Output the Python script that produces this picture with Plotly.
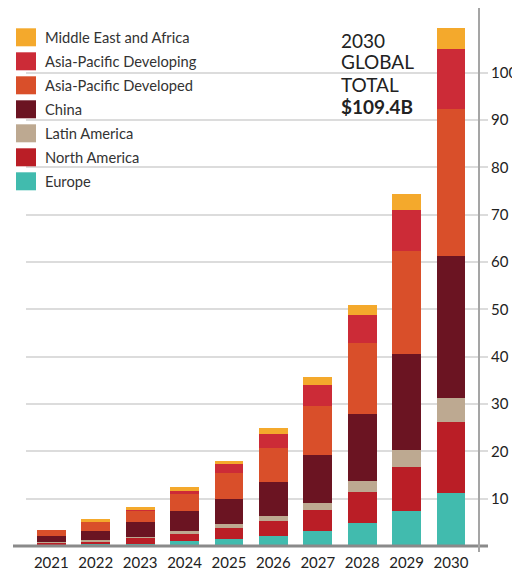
import plotly.graph_objects as go

years = [2021, 2022, 2023, 2024, 2025, 2026, 2027, 2028, 2029, 2030]
series_names = ["Europe", "North America", "Latin America", "China",
                "Asia-Pacific Developed", "Asia-Pacific Developing", "Middle East and Africa"]
europe = [0.1, 0.5, 0.45, 1.05, 1.47, 2.1, 3.15, 4.83, 7.35, 11.3]
north_america = [0.55, 0.4, 1.26, 1.68, 2.31, 3.15, 4.41, 6.5, 9.45, 14.9]
latin_america = [0.2, 0.35, 0.21, 0.42, 0.84, 1.05, 1.47, 2.31, 3.57, 5.05]
china = [1.2, 1.9, 3.15, 4.2, 5.25, 7.21, 10.29, 14.3, 20.2, 30.1]
ap_developed = [1.26, 2.1, 2.52, 3.57, 5.46, 7.28, 10.29, 14.9, 21.8, 31.1]
ap_developing = [0.0, 0.0, 0.05, 0.7, 2.1, 2.94, 4.41, 5.88, 8.6, 12.5]
mea = [0.0, 0.4, 0.63, 0.77, 0.63, 1.26, 1.68, 2.31, 3.36, 4.45]
colors = ["#41BBAE", "#BA1E26", "#BDA991", "#6B1422", "#D94F2A", "#CC2B37", "#F4A92C"]
y_ticks = [10, 20, 30, 40, 50, 60, 70, 80, 90, 100]
note_lines = ["2030", "GLOBAL", "TOTAL", "$109.4B"]

values = [europe, north_america, latin_america, china, ap_developed, ap_developing, mea]

# page body has an 8px margin, so the figure is drawn 8px smaller and
# positions below are given in window pixels and shifted by OFF
OFF = 8
W, H = 520 - OFF, 572 - OFF
PL, PR, PT, PB = 26, 479, 8, 546          # plot area in window pixels
ML, MR, MT, MB = PL - OFF, W - (PR - OFF), PT - OFF, H - (PB - OFF)
PW, PH = W - ML - MR, H - MT - MB

def px(x):
    return (x - PL) / PW

def py(y):
    return (PB - y) / PH

FONT = "Lato"

fig = go.Figure()
for name, vals, col in zip(series_names, values, colors):
    fig.add_trace(go.Bar(x=years, y=vals, name=name, marker_color=col,
                         marker_line_width=0, width=0.65, showlegend=False))

shapes = []
annotations = []
shapes.append(dict(type="rect", xref="paper", yref="paper", layer="between",
                   x0=px(8), x1=px(232), y0=py(197), y1=py(22),
                   fillcolor="white", line_width=0))
for i, (name, col) in enumerate(zip(series_names[::-1], colors[::-1])):
    cy = 37.3 + 24 * i
    shapes.append(dict(type="rect", xref="paper", yref="paper", layer="above",
                       x0=px(16), x1=px(36), y0=py(cy + 9), y1=py(cy - 9),
                       fillcolor=col, line_width=0))
    annotations.append(dict(xref="paper", yref="paper", x=px(43), y=py(cy),
                            text=name, showarrow=False, xanchor="left", yanchor="middle",
                            font=dict(family=FONT, size=14.7, color="#333333")))
shapes.append(dict(type="line", xref="paper", yref="paper", layer="above",
                   x0=px(13), x1=px(488), y0=0, y1=0,
                   line=dict(color="#8a8a8a", width=3)))
shapes.append(dict(type="line", xref="paper", yref="paper", layer="above",
                   x0=1, x1=1, y0=py(552), y1=1,
                   line=dict(color="#a5a5a5", width=2)))

note_y = [40.7, 61.7, 84.0, 106.0]
for i, (line, ny) in enumerate(zip(note_lines, note_y)):
    txt = "<b>" + line + "</b>" if i == 3 else line
    annotations.append(dict(xref="paper", yref="paper", x=px(339), y=py(ny),
                            text=txt, showarrow=False, xanchor="left", yanchor="middle",
                            font=dict(family=FONT, size=19, color="#222222")))

fig.update_layout(
    width=W, height=H, barmode="stack",
    margin=dict(l=ML, r=MR, t=MT, b=MB, autoexpand=False),
    paper_bgcolor="white", plot_bgcolor="white",
    showlegend=False,
    shapes=shapes, annotations=annotations,
    xaxis=dict(range=[2020.43, 2030.63], tickvals=years, ticktext=[str(y) for y in years],
               showgrid=False, showline=False, ticks="", zeroline=False,
               ticklabelstandoff=6,
               tickfont=dict(family=FONT, size=15, color="#222222")),
    yaxis=dict(side="right", range=[0, 113.7], tickvals=y_ticks,
               showgrid=True, gridcolor="#dcdcdc", gridwidth=1.5,
               showline=False, ticks="outside", ticklen=8, tickcolor="#dcdcdc", tickwidth=1.5,
               zeroline=False, ticklabelstandoff=0,
               tickfont=dict(family=FONT, size=15, color="#222222")),
)

fig.write_html("out.html")
